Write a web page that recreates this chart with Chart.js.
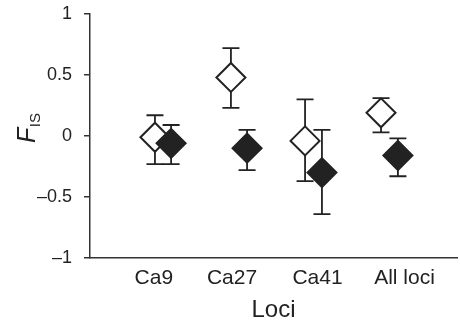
<!DOCTYPE html>
<html>
<head>
<meta charset="utf-8">
<script src="https://cdn.jsdelivr.net/npm/chart.js@4/dist/chart.umd.min.js"></script>
<style>
  html, body { margin: 0; padding: 0; background: #fff; }
  #wrap { width: 460px; height: 325px; }
</style>
</head>
<body>
<div id="wrap"><canvas id="myChart" width="460" height="325"></canvas></div>
<script>
// loci and where their names sit on the x axis
const categories = ["Ca9", "Ca27", "Ca41", "All loci"];
const labelPos = [1.74, 3.87, 6.2, 8.57];

// open diamonds
const openX = [1.77, 3.84, 5.86, 7.93];
const openFis = [-0.01, 0.48, -0.04, 0.19];
const openLow = [-0.23, 0.23, -0.37, 0.03];
const openHigh = [0.17, 0.72, 0.30, 0.31];

// filled diamonds
const filledX = [2.21, 4.28, 6.32, 8.39];
const filledFis = [-0.06, -0.10, -0.30, -0.16];
const filledLow = [-0.23, -0.28, -0.64, -0.33];
const filledHigh = [0.09, 0.05, 0.05, -0.02];

const yTicks = [-1, -0.5, 0, 0.5, 1];

const ink = "#222";
const fontFam = "'Liberation Sans', Arial, sans-serif";

const toPoints = (xs, ys) => xs.map((x, i) => ({ x: x, y: ys[i] }));

// error bars, drawn under the diamonds
const errorBars = {
  id: "errorBars",
  beforeDatasetsDraw(chart) {
    const ctx = chart.ctx;
    const yScale = chart.scales.y;
    ctx.save();
    ctx.strokeStyle = ink;
    ctx.lineWidth = 1.8;
    chart.data.datasets.forEach((ds, di) => {
      const meta = chart.getDatasetMeta(di);
      meta.data.forEach((pt, i) => {
        const x = pt.x;
        const yLo = yScale.getPixelForValue(ds.low[i]);
        const yHi = yScale.getPixelForValue(ds.high[i]);
        ctx.beginPath();
        ctx.moveTo(x, yLo);
        ctx.lineTo(x, yHi);
        ctx.moveTo(x - 8.5, yLo);
        ctx.lineTo(x + 8.5, yLo);
        ctx.moveTo(x - 8.5, yHi);
        ctx.lineTo(x + 8.5, yHi);
        ctx.stroke();
      });
    });
    ctx.restore();
  },
};

// y title: italic F with subscript IS
const yTitle = {
  id: "yTitle",
  afterDraw(chart) {
    const ctx = chart.ctx;
    ctx.save();
    ctx.translate(35, 143);
    ctx.rotate(-Math.PI / 2);
    ctx.fillStyle = ink;
    ctx.textAlign = "left";
    ctx.textBaseline = "alphabetic";
    ctx.font = "italic 25px " + fontFam;
    ctx.fillText("F", 0, 0);
    const w = ctx.measureText("F").width;
    ctx.font = "15px " + fontFam;
    ctx.fillText("IS", w + 0.5, 5);
    ctx.restore();
  },
};

const config = {
  type: "scatter",
  data: {
    datasets: [
      {
        label: "open",
        data: toPoints(openX, openFis),
        low: openLow,
        high: openHigh,
        pointStyle: "rectRot",
        pointRadius: 14.5,
        backgroundColor: "#fff",
        borderColor: ink,
        borderWidth: 2,
        order: 2,
      },
      {
        label: "filled",
        data: toPoints(filledX, filledFis),
        low: filledLow,
        high: filledHigh,
        pointStyle: "rectRot",
        pointRadius: 14.5,
        backgroundColor: ink,
        borderColor: ink,
        borderWidth: 2,
        order: 1,
      },
    ],
  },
  options: {
    responsive: false,
    animation: false,
    layout: { autoPadding: false, padding: { left: 0, right: 3, top: 14, bottom: 0 } },
    plugins: {
      legend: { display: false },
      tooltip: { enabled: false },
    },
    elements: { point: { hoverRadius: 14.5 } },
    scales: {
      x: {
        type: "linear",
        min: 0,
        max: 10,
        afterBuildTicks: (scale) => {
          scale.ticks = labelPos.map((v) => ({ value: v }));
        },
        afterFit: (scale) => {
          scale.height = 67;
        },
        grid: { display: false, drawTicks: false },
        border: { display: true, color: "#333", width: 1.5 },
        ticks: {
          padding: 8,
          color: ink,
          maxRotation: 0,
          autoSkip: false,
          font: { family: fontFam, size: 21 },
          callback: (v) => {
            const i = labelPos.indexOf(v);
            return i >= 0 ? categories[i] : "";
          },
        },
        title: {
          display: true,
          text: "Loci",
          color: ink,
          padding: { top: 0, bottom: 0 },
          font: { family: fontFam, size: 24 },
        },
      },
      y: {
        min: -1,
        max: 1,
        afterBuildTicks: (scale) => {
          scale.ticks = yTicks.map((v) => ({ value: v }));
        },
        afterFit: (scale) => {
          scale.width = 90;
          scale.paddingTop = 0;
          scale.paddingBottom = 0;
        },
        grid: {
          drawOnChartArea: false,
          drawTicks: true,
          tickLength: 6,
          color: "#333",
          lineWidth: 1.5,
        },
        border: { display: true, color: "#333", width: 1.5 },
        ticks: {
          padding: 12,
          color: ink,
          font: { family: fontFam, size: 18 },
          callback: (v) => (v < 0 ? "\u2013" + Math.abs(v) : String(v)),
        },
      },
    },
  },
  plugins: [errorBars, yTitle],
};

var myChart = new Chart(document.getElementById("myChart"), config);
</script>
</body>
</html>
